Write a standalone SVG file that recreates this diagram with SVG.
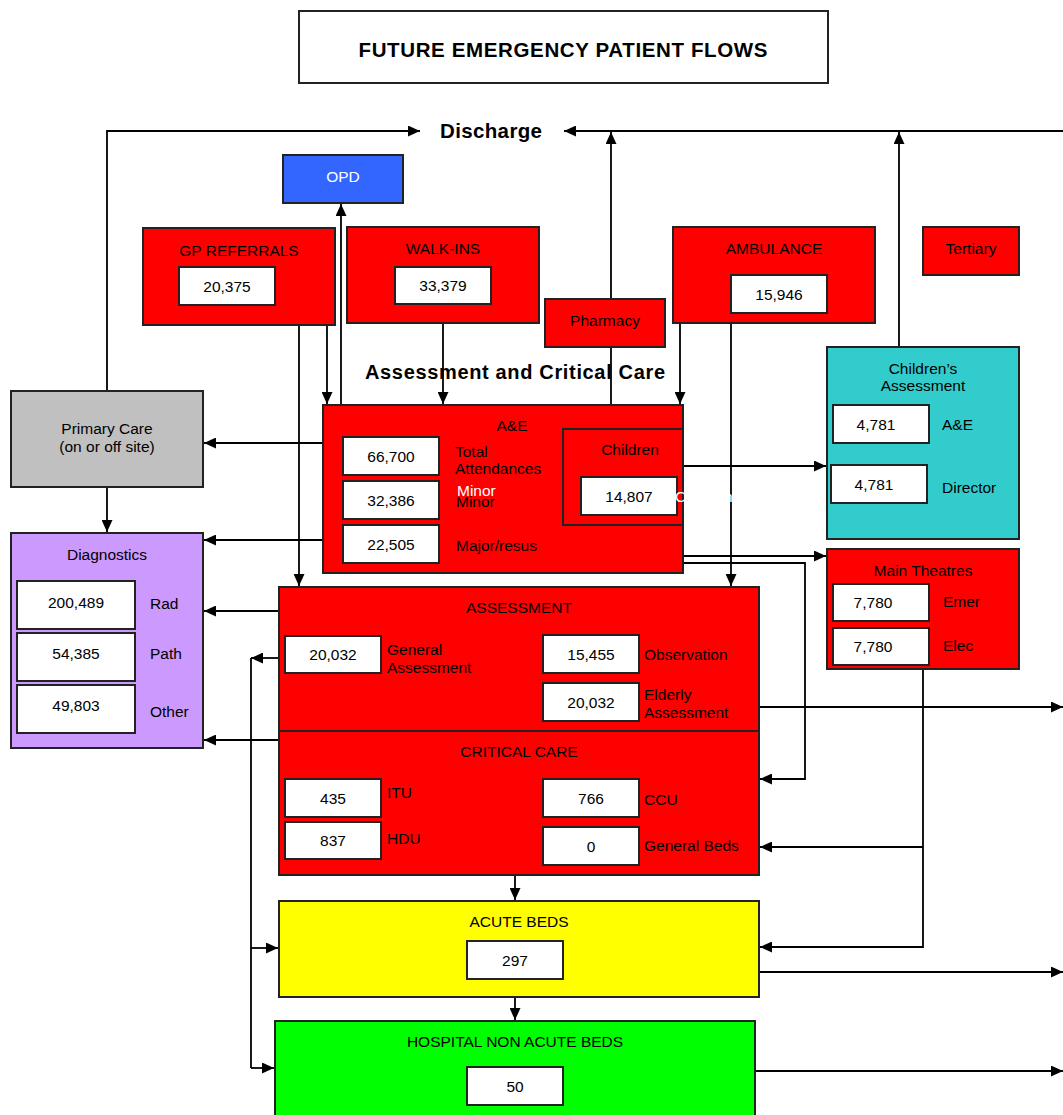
<svg xmlns="http://www.w3.org/2000/svg" width="1063" height="1115" viewBox="0 0 1063 1115">
<defs>
<marker id="ah" markerUnits="userSpaceOnUse" markerWidth="13" markerHeight="11" refX="12" refY="5.5" orient="auto">
<path d="M0,0 L12,5.5 L0,11 z" fill="#000"/>
</marker>
<style>
text{font-family:"Liberation Sans",Arial,sans-serif;font-size:15.5px;fill:#000}
.c{text-anchor:middle}
.b{font-weight:bold}
.w{fill:#fff}
rect{stroke:#222;stroke-width:2}
.red{fill:#FF0000}
.box{fill:#fff}
.conn path,.conn line{fill:none;stroke:#000;stroke-width:1.8}
</style>
</defs>
<rect width="1063" height="1115" fill="#fff" style="stroke:none"/>

<g id="connectors" class="conn">
<path d="M107,391 V131 H420" marker-end="url(#ah)"/>
<path d="M1063,131 H564" marker-end="url(#ah)"/>
<path d="M611,405 V132" marker-end="url(#ah)"/>
<path d="M899,347 V132" marker-end="url(#ah)"/>
<path d="M341,405 V204" marker-end="url(#ah)"/>
<path d="M327,325 V404" marker-end="url(#ah)"/>
<path d="M299,325 V586" marker-end="url(#ah)"/>
<path d="M443,323 V404" marker-end="url(#ah)"/>
<path d="M680,323 V404" marker-end="url(#ah)"/>
<path d="M731,323 V586" marker-end="url(#ah)"/>
<path d="M323,443 H204" marker-end="url(#ah)"/>
<path d="M323,540 H204" marker-end="url(#ah)"/>
<path d="M279,611 H204" marker-end="url(#ah)"/>
<path d="M279,740 H204" marker-end="url(#ah)"/>
<path d="M107,487 V532" marker-end="url(#ah)"/>
<path d="M279,658 H251" marker-end="url(#ah)"/>
<path d="M251,658 V1068"/>
<path d="M251,948 H278" marker-end="url(#ah)"/>
<path d="M251,1068 H274" marker-end="url(#ah)"/>
<path d="M683,466 H826" marker-end="url(#ah)"/>
<path d="M683,556 H826" marker-end="url(#ah)"/>
<path d="M683,563 H805 V779 H760" marker-end="url(#ah)"/>
<path d="M923,669 V947 H760" marker-end="url(#ah)"/>
<path d="M923,847 H760" marker-end="url(#ah)"/>
<path d="M759,707 H1063" marker-end="url(#ah)"/>
<path d="M759,972 H1063" marker-end="url(#ah)"/>
<path d="M755,1071 H1063" marker-end="url(#ah)"/>
<path d="M515,875 V900" marker-end="url(#ah)"/>
<path d="M515,997 V1020" marker-end="url(#ah)"/>
</g>

<g id="title">
<rect x="299" y="11" width="529" height="72" class="box"/>
<text x="563" y="57" class="c b" style="font-size:20.5px" textLength="409" lengthAdjust="spacing">FUTURE EMERGENCY PATIENT FLOWS</text>
</g>

<g id="discharge">
<text x="491" y="138" class="c b" style="font-size:20.5px" textLength="102" lengthAdjust="spacing">Discharge</text>
</g>

<g id="opd">
<rect x="283" y="155" width="120" height="48" fill="#3366FF"/>
<text x="343" y="182" class="c w">OPD</text>
</g>

<g id="gp-referrals">
<rect x="143" y="228" width="192" height="97" class="red"/>
<text x="239" y="256" class="c">GP REFERRALS</text>
<rect x="179" y="267" width="96" height="38" class="box"/>
<text x="227" y="292" class="c">20,375</text>
</g>

<g id="walk-ins">
<rect x="347" y="227" width="192" height="96" class="red"/>
<text x="443" y="254" class="c">WALK-INS</text>
<rect x="395" y="267" width="96" height="37" class="box"/>
<text x="443" y="291" class="c">33,379</text>
</g>

<g id="pharmacy">
<rect x="545" y="299" width="120" height="48" class="red"/>
<text x="605" y="326" class="c">Pharmacy</text>
</g>

<g id="ambulance">
<rect x="673" y="227" width="202" height="96" class="red"/>
<text x="774" y="254" class="c">AMBULANCE</text>
<rect x="731" y="275" width="96" height="38" class="box"/>
<text x="779" y="300" class="c">15,946</text>
</g>

<g id="tertiary">
<rect x="923" y="227" width="96" height="48" class="red"/>
<text x="971" y="254" class="c">Tertiary</text>
</g>

<g id="section-label">
<text x="515" y="379" class="c b" style="font-size:20px" textLength="300" lengthAdjust="spacing">Assessment and Critical Care</text>
</g>

<g id="primary-care">
<rect x="11" y="391" width="192" height="96" fill="#C0C0C0"/>
<text x="107" y="434" class="c">Primary Care</text>
<text x="107" y="452" class="c">(on or off site)</text>
</g>

<g id="ae">
<rect x="323" y="405" width="360" height="168" class="red"/>
<text x="512" y="431" class="c">A&amp;E</text>
<rect x="343" y="437" width="96" height="38" class="box"/>
<text x="391" y="462" class="c">66,700</text>
<text x="455" y="457">Total</text>
<text x="455" y="474">Attendances</text>
<rect x="343" y="481" width="96" height="38" class="box"/>
<text x="391" y="506" class="c">32,386</text>
<text x="457" y="496" class="w">Minor</text>
<text x="456" y="507">Minor</text>
<rect x="343" y="525" width="96" height="38" class="box"/>
<text x="391" y="550" class="c">22,505</text>
<text x="456" y="551">Major/resus</text>
</g>

<g id="ae-children">
<rect x="563" y="429" width="120" height="96" class="red"/>
<text x="630" y="455" class="c">Children</text>
<rect x="581" y="477" width="96" height="38" class="box"/>
<text x="629" y="502" class="c">14,807</text>
<text x="675" y="502" class="w">Children</text>
</g>

<g id="childrens-assessment">
<rect x="827" y="347" width="192" height="192" fill="#33CCCC"/>
<text x="923" y="374" class="c">Children’s</text>
<text x="923" y="391" class="c">Assessment</text>
<rect x="833" y="405" width="96" height="38" class="box"/>
<text x="876" y="430" class="c">4,781</text>
<text x="942" y="430">A&amp;E</text>
<rect x="831" y="465" width="96" height="38" class="box"/>
<text x="874" y="490" class="c">4,781</text>
<text x="942" y="493">Director</text>
</g>

<g id="main-theatres">
<rect x="827" y="549" width="192" height="120" class="red"/>
<text x="923" y="576" class="c">Main Theatres</text>
<rect x="833" y="584" width="96" height="37" class="box"/>
<text x="873" y="608" class="c">7,780</text>
<text x="943" y="607">Emer</text>
<rect x="833" y="628" width="96" height="37" class="box"/>
<text x="873" y="652" class="c">7,780</text>
<text x="943" y="651">Elec</text>
</g>

<g id="diagnostics">
<rect x="11" y="533" width="192" height="215" fill="#CC99FF"/>
<text x="107" y="560" class="c">Diagnostics</text>
<rect x="17" y="581" width="118" height="48" class="box"/>
<text x="76" y="608" class="c">200,489</text>
<text x="150" y="609">Rad</text>
<rect x="17" y="633" width="118" height="48" class="box"/>
<text x="76" y="659" class="c">54,385</text>
<text x="150" y="659">Path</text>
<rect x="17" y="685" width="118" height="48" class="box"/>
<text x="76" y="711" class="c">49,803</text>
<text x="150" y="717">Other</text>
</g>

<g id="assessment">
<rect x="279" y="587" width="480" height="144" class="red"/>
<text x="519" y="613" class="c">ASSESSMENT</text>
<rect x="285" y="636" width="96" height="37" class="box"/>
<text x="333" y="660" class="c">20,032</text>
<text x="387" y="655">General</text>
<text x="387" y="673">Assessment</text>
<rect x="543" y="635" width="96" height="38" class="box"/>
<text x="591" y="660" class="c">15,455</text>
<text x="644" y="660">Observation</text>
<rect x="543" y="683" width="96" height="38" class="box"/>
<text x="591" y="708" class="c">20,032</text>
<text x="644" y="700">Elderly</text>
<text x="644" y="718">Assessment</text>
</g>

<g id="critical-care">
<rect x="279" y="731" width="480" height="144" class="red"/>
<text x="519" y="757" class="c">CRITICAL CARE</text>
<rect x="285" y="779" width="96" height="38" class="box"/>
<text x="333" y="804" class="c">435</text>
<text x="387" y="798">ITU</text>
<rect x="285" y="822" width="96" height="37" class="box"/>
<text x="333" y="846" class="c">837</text>
<text x="387" y="844">HDU</text>
<rect x="543" y="779" width="96" height="38" class="box"/>
<text x="591" y="804" class="c">766</text>
<text x="644" y="805">CCU</text>
<rect x="543" y="827" width="96" height="38" class="box"/>
<text x="591" y="852" class="c">0</text>
<text x="644" y="851">General Beds</text>
</g>

<g id="acute-beds">
<rect x="279" y="901" width="480" height="96" fill="#FFFF00"/>
<text x="519" y="927" class="c">ACUTE BEDS</text>
<rect x="467" y="941" width="96" height="38" class="box"/>
<text x="515" y="966" class="c">297</text>
</g>

<g id="non-acute-beds">
<rect x="275" y="1021" width="480" height="100" fill="#00FF00"/>
<text x="515" y="1047" class="c">HOSPITAL NON ACUTE BEDS</text>
<rect x="467" y="1067" width="96" height="38" class="box"/>
<text x="515" y="1092" class="c">50</text>
</g>
</svg>
